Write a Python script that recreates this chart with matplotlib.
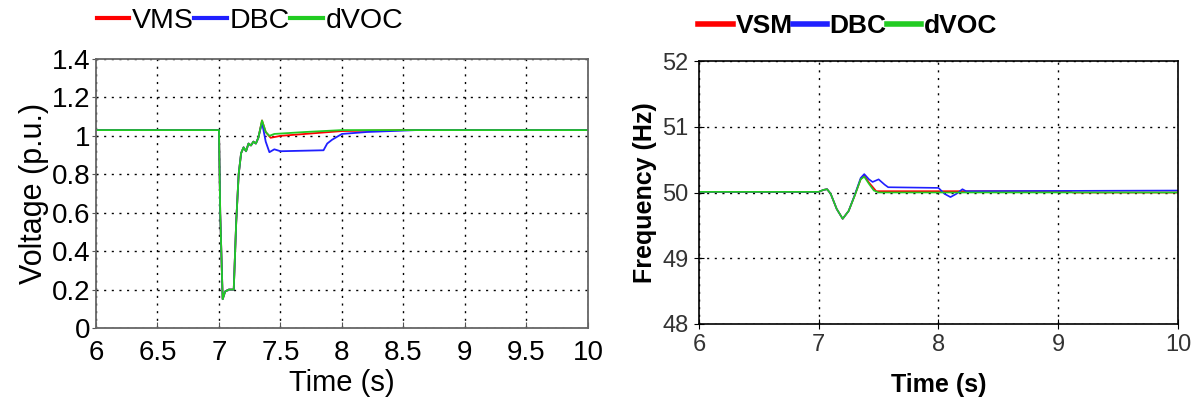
import matplotlib
matplotlib.use("Agg")
import matplotlib.pyplot as plt

plt.rcParams['font.family'] = ['Liberation Sans', 'DejaVu Sans']

# voltage traces (p.u.)
t_v_vms = [6.0, 7.0, 7.01, 7.03, 7.05, 7.08, 7.12, 7.14, 7.16, 7.18, 7.2, 7.22, 7.24,
           7.26, 7.28, 7.3, 7.32, 7.35, 7.38, 7.42, 7.5, 7.7, 8.0, 8.5, 10.0]
v_vms = [1.03, 1.03, 0.6, 0.15, 0.19, 0.2, 0.2, 0.55, 0.8, 0.91, 0.94, 0.92, 0.96,
         0.95, 0.97, 0.96, 0.99, 1.08, 1.02, 0.99, 1.0, 1.01, 1.025, 1.03, 1.03]

t_v_dbc = [6.0, 7.0, 7.01, 7.03, 7.05, 7.08, 7.12, 7.14, 7.16, 7.18, 7.2, 7.22, 7.24,
           7.26, 7.28, 7.3, 7.32, 7.35, 7.38, 7.41, 7.45, 7.5, 7.85, 7.88, 7.92,
           8.0, 8.2, 8.6, 10.0]
v_dbc = [1.03, 1.03, 0.6, 0.15, 0.19, 0.2, 0.2, 0.55, 0.8, 0.91, 0.94, 0.92, 0.96,
         0.95, 0.97, 0.96, 0.99, 1.07, 0.97, 0.915, 0.93, 0.92, 0.925, 0.96, 0.98,
         1.01, 1.02, 1.03, 1.03]

t_v_dvoc = [6.0, 7.0, 7.01, 7.03, 7.05, 7.08, 7.12, 7.14, 7.16, 7.18, 7.2, 7.22, 7.24,
            7.26, 7.28, 7.3, 7.32, 7.35, 7.38, 7.41, 7.45, 7.7, 8.0, 8.5, 10.0]
v_dvoc = [1.03, 1.03, 0.6, 0.15, 0.19, 0.2, 0.2, 0.55, 0.8, 0.91, 0.94, 0.92, 0.96,
          0.95, 0.97, 0.96, 0.99, 1.08, 1.02, 1.0, 1.01, 1.02, 1.03, 1.03, 1.03]

# frequency traces (Hz)
t_f_vsm = [6.0, 7.0, 7.04, 7.07, 7.1, 7.15, 7.2, 7.25, 7.3, 7.35, 7.38, 7.42,
           7.48, 9.1, 9.12, 10.0]
f_vsm = [50.01, 50.01, 50.04, 50.05, 49.98, 49.75, 49.6, 49.72, 49.95, 50.2, 50.26,
         50.15, 50.02, 50.02, 50.0, 50.0]

t_f_dbc = [6.0, 7.0, 7.04, 7.07, 7.1, 7.15, 7.2, 7.25, 7.3, 7.35, 7.38, 7.42, 7.45,
           7.5, 7.55, 7.58, 8.0, 8.05, 8.1, 8.15, 8.2, 8.23, 10.0]
f_dbc = [50.01, 50.01, 50.04, 50.05, 49.98, 49.75, 49.6, 49.72, 49.96, 50.22, 50.28,
         50.2, 50.16, 50.2, 50.12, 50.08, 50.07, 49.98, 49.93, 49.98, 50.05, 50.02, 50.03]

t_f_dvoc = [6.0, 7.0, 7.04, 7.07, 7.1, 7.15, 7.2, 7.25, 7.3, 7.35, 7.38, 7.42, 7.46,
            7.5, 10.0]
f_dvoc = [50.01, 50.01, 50.04, 50.05, 49.98, 49.75, 49.6, 49.72, 49.95, 50.2, 50.24,
          50.13, 50.03, 50.0, 50.0]

fig = plt.figure(figsize=(11.94, 4.0), dpi=100)

# left panel: voltage
ax1 = fig.add_axes([0.0804, 0.18, 0.412, 0.6725])
ax1.plot(t_v_vms, v_vms, color='#ff0000', lw=1.3, label='VMS')
ax1.plot(t_v_dbc, v_dbc, color='#2020ff', lw=1.3, label='DBC')
ax1.plot(t_v_dvoc, v_dvoc, color='#22cc22', lw=1.3, label='dVOC')
ax1.set_xlim(6, 10)
ax1.set_ylim(0, 1.4)
ax1.set_xticks([6, 6.5, 7, 7.5, 8, 8.5, 9, 9.5, 10])
ax1.set_xticklabels(['6', '6.5', '7', '7.5', '8', '8.5', '9', '9.5', '10'])
ax1.set_yticks([0, 0.2, 0.4, 0.6, 0.8, 1.0, 1.2, 1.4])
ax1.set_yticklabels(['0', '0.2', '0.4', '0.6', '0.8', '1', '1.2', '1.4'])
ax1.grid(True, color='black', linestyle=(0, (1.5, 4)), lw=1.0)
ax1.tick_params(axis='x', labelsize=20, direction='in', length=4, pad=9, color='#555555')
ax1.tick_params(axis='y', labelsize=20, direction='out', length=3, pad=1, color='#555555')
for s in ax1.spines.values():
    s.set_color('#666666')
    s.set_linewidth(1.3)
ax1.set_xlabel('Time (s)', fontsize=21, labelpad=2)
ax1.set_ylabel('Voltage (p.u.)', fontsize=22, labelpad=2)
leg1 = ax1.legend(loc='center left', bbox_to_anchor=(0.081, 0.948),
                  bbox_transform=fig.transFigure, ncol=3, frameon=False,
                  fontsize=20.5, handlelength=1.15, handletextpad=0.1, columnspacing=0.0,
                  borderaxespad=0.0, borderpad=0.0)
for ln in leg1.get_lines():
    ln.set_linewidth(3)

# right panel: frequency
ax2 = fig.add_axes([0.5854, 0.19, 0.4012, 0.6575])
ax2.plot(t_f_vsm, f_vsm, color='#ff0000', lw=1.2, label='VSM')
ax2.plot(t_f_dbc, f_dbc, color='#2020ff', lw=1.2, label='DBC')
ax2.plot(t_f_dvoc, f_dvoc, color='#22cc22', lw=1.2, label='dVOC')
ax2.set_xlim(6, 10)
ax2.set_ylim(48, 52)
ax2.set_xticks([6, 7, 8, 9, 10])
ax2.set_yticks([48, 49, 50, 51, 52])
ax2.grid(True, color='black', linestyle=(0, (1.5, 4)), lw=1.0)
ax2.tick_params(labelsize=17, direction='inout', length=7, pad=4, labelcolor='#333333')
for s in ax2.spines.values():
    s.set_color('black')
    s.set_linewidth(1.2)
ax2.set_xlabel('Time (s)', fontsize=18, fontweight='bold', labelpad=12)
ax2.set_ylabel('Frequency (Hz)', fontsize=18, fontweight='bold', labelpad=4)
leg2 = ax2.legend(loc='center left', bbox_to_anchor=(0.585, 0.935),
                  bbox_transform=fig.transFigure, ncol=3, frameon=False,
                  prop={'size': 19, 'weight': 'bold'}, handlelength=1.3, handletextpad=0.1,
                  columnspacing=0.0, borderaxespad=0.0, borderpad=0.0)
for ln in leg2.get_lines():
    ln.set_linewidth(4)

fig.savefig('out.png', dpi=100)
